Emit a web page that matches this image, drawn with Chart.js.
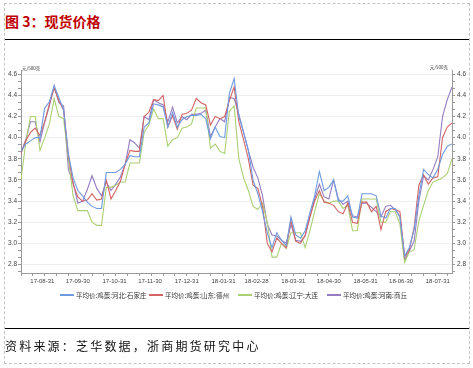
<!DOCTYPE html>
<html><head><meta charset="utf-8">
<script src="https://cdn.jsdelivr.net/npm/chart.js@4.4.0/dist/chart.umd.min.js"></script>
<style>
html,body{margin:0;padding:0;background:#fff;}
body{width:473px;height:368px;position:relative;overflow:hidden;font-family:"Noto Sans CJK SC","Noto Sans",sans-serif;}
#frame{position:absolute;left:4px;top:3px;width:466px;height:361px;border:1px dashed #c4c4c4;box-sizing:border-box;}
#title{position:absolute;left:5px;top:13px;font-size:14px;font-weight:bold;color:#c00000;line-height:16px;white-space:nowrap;}
.rule{position:absolute;left:5px;width:464px;height:1px;background:#000;}
#src{position:absolute;left:5px;top:338px;font-size:12px;line-height:16px;letter-spacing:2.2px;color:#111;white-space:nowrap;}
#c{position:absolute;left:0;top:0;}
.lg{position:absolute;top:291px;height:9px;white-space:nowrap;font-size:6.5px;line-height:9px;color:#333;}
.lg i{display:inline-block;width:14px;height:1.5px;vertical-align:middle;margin-right:2px;position:relative;top:-1px;}
</style></head>
<body>
<div id="frame"></div>
<div id="title">图 3：现货价格</div>
<div class="rule" style="top:39px"></div>
<canvas id="c" width="473" height="368"></canvas>
<div id="legend"></div>
<div class="rule" style="top:328px"></div>
<div id="src">资料来源：芝华数据，浙商期货研究中心</div>
<script>
const dates = [
'2017-08-13','2017-08-17','2017-08-21','2017-08-25','2017-08-29','2017-09-02','2017-09-06','2017-09-10','2017-09-14','2017-09-18',
'2017-09-22','2017-09-26','2017-09-30','2017-10-04','2017-10-08','2017-10-12','2017-10-16','2017-10-20','2017-10-24','2017-10-28',
'2017-11-01','2017-11-05','2017-11-09','2017-11-13','2017-11-17','2017-11-21','2017-11-25','2017-11-29','2017-12-03','2017-12-07',
'2017-12-11','2017-12-15','2017-12-19','2017-12-23','2017-12-27','2017-12-31','2018-01-04','2018-01-08','2018-01-12','2018-01-16',
'2018-01-20','2018-01-24','2018-01-28','2018-02-01','2018-02-05','2018-02-09','2018-02-13','2018-02-17','2018-02-21','2018-02-25',
'2018-03-01','2018-03-05','2018-03-09','2018-03-13','2018-03-17','2018-03-21','2018-03-25','2018-03-29','2018-04-02','2018-04-06',
'2018-04-10','2018-04-14','2018-04-18','2018-04-22','2018-04-26','2018-04-30','2018-05-04','2018-05-08','2018-05-12','2018-05-16',
'2018-05-20','2018-05-24','2018-05-28','2018-06-01','2018-06-05','2018-06-09','2018-06-13','2018-06-17','2018-06-21','2018-06-25',
'2018-06-29','2018-07-03','2018-07-07','2018-07-11','2018-07-15','2018-07-19','2018-07-23','2018-07-27','2018-07-31','2018-08-04',
'2018-08-08','2018-08-12'];

const shijiazhuang = [
3.87,3.94,3.97,4.00,4.00,4.28,4.34,4.49,4.38,4.26,
3.85,3.62,3.50,3.45,3.39,3.35,3.33,3.33,3.67,3.67,
3.67,3.70,3.75,3.83,3.82,3.82,4.10,4.14,4.32,4.31,
4.29,4.10,4.24,4.10,4.17,4.20,4.21,4.21,4.22,4.18,
3.99,4.10,4.01,4.00,4.42,4.56,4.20,4.05,3.88,3.60,
3.47,3.30,3.10,2.96,3.10,3.03,2.98,3.25,3.08,3.05,
3.12,3.29,3.45,3.68,3.50,3.53,3.60,3.40,3.40,3.45,
3.25,3.24,3.47,3.47,3.47,3.45,3.26,3.24,3.33,3.33,
3.25,2.88,2.96,3.13,3.45,3.70,3.65,3.62,3.70,3.84,
3.92,3.94];

const dezhou = [
3.85,3.97,4.05,4.09,4.02,4.15,4.32,4.47,4.35,4.26,
3.84,3.56,3.44,3.40,3.41,3.47,3.41,3.42,3.60,3.42,
3.50,3.59,3.75,3.88,3.87,3.87,4.20,4.24,4.36,4.35,
4.40,4.10,4.21,4.08,4.22,4.23,4.26,4.37,4.33,4.31,
4.12,4.20,4.18,4.20,4.35,4.48,4.15,3.98,3.80,3.55,
3.52,3.35,3.00,2.92,3.05,3.00,2.96,3.22,3.02,3.00,
3.08,3.25,3.40,3.50,3.39,3.38,3.36,3.30,3.28,3.38,
3.20,3.19,3.39,3.39,3.30,3.35,3.13,3.30,3.33,3.32,
3.30,2.87,2.94,3.15,3.55,3.65,3.56,3.62,3.63,4.00,
4.10,4.14];

const dalian = [
3.60,3.95,4.20,4.20,3.88,4.00,4.13,4.37,4.20,4.18,
3.80,3.45,3.31,3.31,3.31,3.20,3.17,3.17,3.53,3.53,
3.55,3.58,3.58,3.76,3.76,3.76,4.05,4.12,4.27,4.18,
4.18,3.92,3.98,4.00,4.09,4.10,4.13,4.28,4.28,4.28,
3.90,3.94,3.87,3.85,4.25,4.30,3.80,3.62,3.50,3.35,
3.32,3.38,3.20,2.87,2.87,3.00,2.95,3.10,3.10,3.10,
2.96,3.12,3.30,3.47,3.40,3.38,3.40,3.40,3.33,3.36,
3.12,3.12,3.42,3.42,3.42,3.42,3.20,3.20,3.30,3.30,
3.18,2.82,2.92,2.94,3.21,3.36,3.50,3.58,3.60,3.62,
3.66,3.80];

const shangqiu = [
3.86,3.98,4.15,4.15,3.96,4.15,4.30,4.49,4.33,4.30,
3.70,3.58,3.38,3.40,3.51,3.64,3.52,3.45,3.58,3.50,
3.56,3.63,3.75,3.98,3.95,3.90,4.20,4.17,4.36,4.33,
4.31,4.15,4.29,4.14,4.20,4.17,4.22,4.22,4.23,4.26,
4.01,4.10,4.18,4.15,4.38,4.37,4.22,4.05,3.88,3.72,
3.62,3.45,3.18,3.08,3.07,3.03,3.00,3.18,3.03,3.02,
3.07,3.25,3.42,3.56,3.44,3.42,3.60,3.42,3.37,3.40,
3.26,3.25,3.38,3.38,3.34,3.30,3.25,3.35,3.36,3.32,
3.25,2.84,2.93,3.02,3.40,3.64,3.60,3.70,3.82,4.20,
4.36,4.48];

const seriesNames = ['平均价:鸡蛋:河北:石家庄','平均价:鸡蛋:山东:德州','平均价:鸡蛋:辽宁:大连','平均价:鸡蛋:河南:商丘'];
const seriesColors = ['#6e9be0','#d26464','#abcf73','#937cc2'];
const xTickLabels = ['17-08-31','17-09-30','17-10-31','17-11-30','17-12-31','18-01-31','18-02-28','18-03-31','18-04-30','18-05-31','18-06-30','18-07-31'];
const yTickLabels = ['2.8','3.0','3.2','3.4','3.6','3.8','4.0','4.2','4.4','4.6'];
const unitLabel = '元/500克';

const T0 = Date.UTC(2017,7,13);
function dayOf(s){const p=s.split('-').map(Number);return Math.round((Date.UTC(p[0],p[1]-1,p[2])-T0)/86400000);}
function dayOfShort(s){return dayOf('20'+s);}

const xTicks=[];
for(let d=0; d<=360; d+=10) xTicks.push({value:d, lbl:'', mark:true});
xTickLabels.forEach(l=>xTicks.push({value:dayOfShort(l), lbl:l, mark:false}));
xTicks.sort((a,b)=>a.value-b.value);

const yTicks=[];
const majors=yTickLabels.map(Number);
yTicks.push({value:majors[0]-0.2/3, lbl:''});
majors.forEach((v,i)=>{
  yTicks.push({value:v, lbl:yTickLabels[i]});
  if(i<majors.length-1){ yTicks.push({value:v+0.2/3,lbl:''}); yTicks.push({value:v+0.4/3,lbl:''}); }
});

const lgLeft=[60,149,238,327];
const lgEl=document.getElementById('legend');
seriesNames.forEach((n,i)=>{
  const d=document.createElement('div');d.className='lg';d.style.left=lgLeft[i]+'px';
  d.innerHTML='<i style="background:'+seriesColors[i]+'"></i>'+n;lgEl.appendChild(d);
});

const seriesVals=[shijiazhuang,dezhou,dalian,shangqiu];
const datasets=seriesVals.map((vals,k)=>({
  label:seriesNames[k],
  data:dates.map((d,i)=>({x:dayOf(d),y:vals[i]})),
  borderColor:seriesColors[k],
  borderWidth:1.1,
  pointRadius:0,
  tension:0,
  fill:false,
  yAxisID:'y'
}));

const yCommon={
  min:2.72,max:4.64,
  afterBuildTicks:s=>{s.ticks=yTicks.map(t=>({value:t.value}));},
  ticks:{autoSkip:false,font:{size:6.5,family:'"Liberation Sans",Arial'},color:'#444',
    callback:(v,i)=>yTicks[i]?yTicks[i].lbl:''},
};

const unitPlugin={id:'unit',afterDraw(chart){
  const c=chart.ctx,a=chart.chartArea;
  c.save();c.fillStyle='#333';c.font='4.5px "Noto Sans CJK SC"';c.textBaseline='middle';
  c.textAlign='left';c.fillText(unitLabel,a.left+1,a.top-2);
  c.textAlign='right';c.fillText(unitLabel,a.right-4,a.top-3);
  c.restore();
}};

new Chart(document.getElementById('c'),{
  type:'line',
  data:{datasets},
  options:{
    responsive:false,animation:false,
    layout:{padding:{top:70,left:0,right:0,bottom:0}},
    plugins:{legend:{display:false},tooltip:{enabled:false}},
    scales:{
      x:{type:'linear',position:'bottom',min:0,max:364,
        afterBuildTicks:s=>{s.ticks=xTicks.map(t=>({value:t.value}));},
        afterFit:s=>{s.height=95;},
        ticks:{autoSkip:false,maxRotation:0,padding:2,font:{size:6,family:'"Liberation Sans",Arial'},color:'#444',
          callback:(v,i)=>xTicks[i]?xTicks[i].lbl:''},
        grid:{drawOnChartArea:false,tickLength:3,tickColor:ctx=>(xTicks[ctx.index]&&xTicks[ctx.index].mark)?'#999':'rgba(0,0,0,0)'},
        border:{color:'#999'}
      },
      y:Object.assign({},yCommon,{position:'left',
        afterFit:s=>{s.width=21;},
        ticks:Object.assign({},yCommon.ticks,{padding:1}),
        grid:{tickLength:3,color:ctx=>(yTicks[ctx.index]&&yTicks[ctx.index].lbl)?'#efefef':'rgba(0,0,0,0)',tickColor:'#999'},
        border:{color:'#999'}}),
      y2:Object.assign({},yCommon,{position:'right',
        afterFit:s=>{s.width=21;},
        ticks:Object.assign({},yCommon.ticks,{padding:2}),
        grid:{drawOnChartArea:false,tickLength:3,tickColor:'#999'},
        border:{color:'#999'}})
    }
  },
  plugins:[unitPlugin]
});
</script>
</body></html>
